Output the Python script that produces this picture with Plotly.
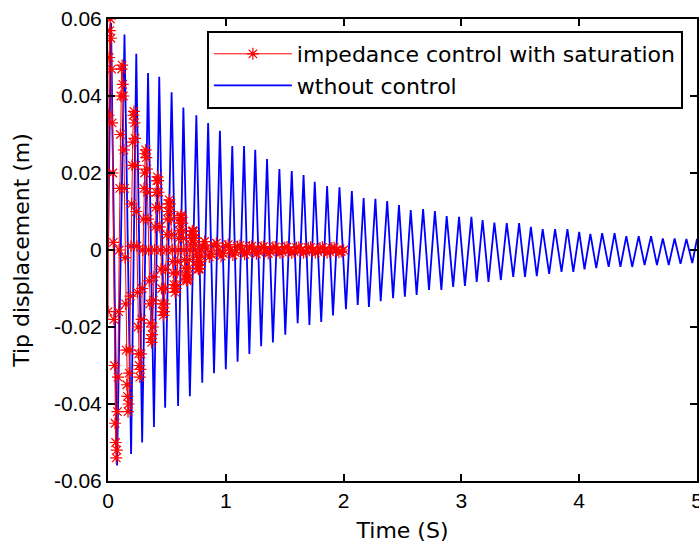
import plotly.graph_objects as go

# --- data (seconds, metres) ---
# uncontrolled response: successive peaks / troughs
blue_t = [0.000, 0.026, 0.077, 0.140, 0.196, 0.240, 0.290, 0.340, 0.390, 0.435,
          0.485, 0.540, 0.595, 0.640, 0.695, 0.750, 0.800, 0.850, 0.900, 0.950,
          1.000, 1.055, 1.100, 1.155, 1.200, 1.250, 1.300, 1.350, 1.400, 1.455,
          1.505, 1.560, 1.610, 1.660, 1.710, 1.755, 1.810, 1.860, 1.910, 1.965,
          2.020, 2.070, 2.120, 2.170, 2.215, 2.270, 2.315, 2.370, 2.420, 2.470,
          2.520, 2.570, 2.620, 2.675, 2.725, 2.775, 2.830, 2.875, 2.930, 2.980,
          3.030, 3.085, 3.130, 3.180, 3.230, 3.280, 3.335, 3.385, 3.440, 3.490,
          3.540, 3.590, 3.640, 3.690, 3.745, 3.795, 3.850, 3.900, 3.950, 4.000,
          4.045, 4.095, 4.145, 4.195, 4.250, 4.300, 4.350, 4.400, 4.450, 4.505,
          4.555, 4.610, 4.660, 4.710, 4.760, 4.810, 4.860, 4.910, 4.960, 5.000]
blue_v = [0.0, 0.059, -0.056, 0.056, -0.053, 0.051, -0.050, 0.046, -0.046, 0.045,
          -0.041, 0.041, -0.0405, 0.037, -0.038, 0.035, -0.0345, 0.033, -0.032, 0.031,
          -0.031, 0.027, -0.029, 0.027, -0.027, 0.026, -0.025, 0.0236, -0.024, 0.021,
          -0.022, 0.0205, -0.019, 0.0195, -0.0195, 0.0177, -0.0187, 0.0166, -0.017, 0.0163,
          -0.0154, 0.0153, -0.0143, 0.0135, -0.0148, 0.0133, -0.0133, 0.0127, -0.0125, 0.0117,
          -0.0121, 0.0104, -0.0117, 0.0106, -0.0104, 0.0101, -0.0104, 0.0088, -0.0096, 0.0086,
          -0.0093, 0.0086, -0.0083, 0.0078, -0.0083, 0.0071, -0.0078, 0.0070, -0.0070, 0.0070,
          -0.0070, 0.0060, -0.0068, 0.0054, -0.0062, 0.0054, -0.0057, 0.0054, -0.0057, 0.0047,
          -0.0050, 0.0042, -0.0047, 0.0044, -0.0044, 0.0044, -0.0044, 0.0036, -0.0044, 0.0036,
          -0.0039, 0.0036, -0.0039, 0.0030, -0.0039, 0.0030, -0.0036, 0.0029, -0.0034, 0.0029]

# impedance control with saturation: sampled response (star markers)
red_t = [0.000, 0.005, 0.010, 0.015, 0.020, 0.025, 0.030, 0.035, 0.040, 0.045,
         0.050, 0.055, 0.060, 0.065, 0.070, 0.075, 0.080, 0.085, 0.090, 0.095,
         0.100, 0.105, 0.110, 0.115, 0.120, 0.125, 0.130, 0.135, 0.140, 0.145,
         0.150, 0.155, 0.160, 0.165, 0.170, 0.175, 0.180, 0.185, 0.190, 0.195,
         0.200, 0.205, 0.210, 0.215, 0.220, 0.225, 0.230, 0.235, 0.240, 0.245,
         0.250, 0.255, 0.260, 0.265, 0.270, 0.275, 0.280, 0.285, 0.290, 0.295,
         0.300, 0.305, 0.310, 0.315, 0.320, 0.325, 0.330, 0.335, 0.340, 0.345,
         0.350, 0.355, 0.360, 0.365, 0.370, 0.375, 0.380, 0.385, 0.390, 0.395,
         0.400, 0.405, 0.410, 0.415, 0.420, 0.425, 0.430, 0.435, 0.440, 0.445,
         0.450, 0.455, 0.460, 0.465, 0.470, 0.475, 0.480, 0.485, 0.490, 0.495,
         0.500, 0.505, 0.510, 0.515, 0.520, 0.525, 0.530, 0.535, 0.540, 0.545,
         0.550, 0.555, 0.560, 0.565, 0.570, 0.575, 0.580, 0.585, 0.590, 0.595,
         0.600, 0.605, 0.610, 0.615, 0.620, 0.625, 0.630, 0.635, 0.640, 0.645,
         0.650, 0.655, 0.660, 0.665, 0.670, 0.675, 0.680, 0.685, 0.690, 0.695,
         0.700, 0.705, 0.710, 0.715, 0.720, 0.725, 0.730, 0.735, 0.740, 0.745,
         0.750, 0.755, 0.760, 0.765, 0.770, 0.775, 0.780, 0.785, 0.790, 0.795,
         0.80, 0.82, 0.84, 0.86, 0.88, 0.90, 0.92, 0.94, 0.96, 0.98,
         1.00, 1.02, 1.04, 1.06, 1.08, 1.10, 1.12, 1.14, 1.16, 1.18,
         1.20, 1.22, 1.24, 1.26, 1.28, 1.30, 1.32, 1.34, 1.36, 1.38,
         1.40, 1.42, 1.44, 1.46, 1.48, 1.50, 1.52, 1.54, 1.56, 1.58,
         1.60, 1.62, 1.64, 1.66, 1.68, 1.70, 1.72, 1.74, 1.76, 1.78,
         1.80, 1.82, 1.84, 1.86, 1.88, 1.90, 1.92, 1.94, 1.96, 1.98, 2.00]
red_v = [-0.016, 0.035, 0.050, 0.057, 0.060, 0.055, 0.047, 0.033, 0.020, 0.002,
         -0.018, -0.030, -0.045, -0.050, -0.054, -0.052, -0.042, -0.033, -0.016, 0.000,
         0.016, 0.030, 0.040, 0.047, 0.048, 0.043, 0.040, 0.026, 0.016, -0.002,
         -0.014, -0.026, -0.035, -0.038, -0.042, -0.040, -0.032, -0.026, -0.012, 0.001,
         0.012, 0.022, 0.028, 0.035, 0.036, 0.033, 0.029, 0.022, 0.010, 0.001,
         -0.011, -0.020, -0.027, -0.030, -0.033, -0.031, -0.027, -0.018, -0.010, 0.000,
         0.008, 0.016, 0.020, 0.025, 0.026, 0.024, 0.021, 0.015, 0.008, 0.000,
         -0.008, -0.014, -0.019, -0.023, -0.024, -0.022, -0.020, -0.013, -0.007, 0.000,
         0.006, 0.011, 0.015, 0.018, 0.019, 0.018, 0.015, 0.011, 0.006, 0.000,
         -0.005, -0.010, -0.014, -0.016, -0.017, -0.016, -0.014, -0.010, -0.005, 0.000,
         0.004, 0.008, 0.010, 0.012, 0.013, 0.012, 0.010, 0.008, 0.004, 0.000,
         -0.003, -0.006, -0.009, -0.010, -0.011, -0.010, -0.009, -0.006, -0.003, 0.000,
         0.003, 0.005, 0.007, 0.0085, 0.009, 0.0085, 0.007, 0.005, 0.003, 0.000,
         -0.0025, -0.0047, -0.0065, -0.0076, -0.008, -0.0076, -0.0065, -0.0047, -0.0025, 0.000,
         0.0015, 0.003, 0.004, 0.0048, 0.005, 0.0048, 0.004, 0.003, 0.0015, 0.000,
         -0.0015, -0.003, -0.004, -0.0048, -0.005, -0.0048, -0.004, -0.003, -0.0015, 0.000,
         0.0010, 0.0022, 0.0005, -0.0018, -0.0012, 0.0012, 0.0018, 0.0000, -0.0016, -0.0009,
         0.0010, 0.0014, 0.0000, -0.0013, -0.0007, 0.0009, 0.0012, 0.0000, -0.0011, -0.0006,
         0.0008, 0.0010, 0.0000, -0.0010, -0.0005, 0.0007, 0.0009, 0.0000, -0.0009, -0.0005,
         0.0007, 0.0008, 0.0000, -0.0008, -0.0005, 0.0006, 0.0008, 0.0000, -0.0008, -0.0004,
         0.0006, 0.0007, 0.0000, -0.0007, -0.0004, 0.0006, 0.0007, 0.0000, -0.0007, -0.0004,
         0.0005, 0.0007, 0.0000, -0.0007, -0.0004, 0.0005, 0.0006, 0.0000, -0.0006, -0.0004, 0.0000]

x_ticks = [0, 1, 2, 3, 4, 5]
y_ticks = [-0.06, -0.04, -0.02, 0, 0.02, 0.04, 0.06]
y_labels = ['-0.06', '-0.04', '-0.02', '0', '0.02', '0.04', '0.06']

TICK_FONT = 'Liberation Sans, Arial, sans-serif'
TEXT_FONT = 'DejaVu Sans, sans-serif'

fig = go.Figure()

# blue first, red drawn on top (legend order forced with legendrank)
fig.add_trace(go.Scatter(x=blue_t, y=blue_v, mode='lines', name='wthout control',
                         line=dict(color='#0000ff', width=1.8), legendrank=2))
fig.add_trace(go.Scatter(x=red_t, y=red_v, mode='lines+markers',
                         name='impedance control with saturation',
                         line=dict(color='#ff0000', width=1),
                         marker=dict(symbol='asterisk-open', size=10, color='#ff0000',
                                     line=dict(color='#ff0000', width=1.2)),
                         legendrank=1))

axis_common = dict(showline=True, linecolor='black', linewidth=2, mirror='ticks',
                   ticks='inside', ticklen=7, tickwidth=1.5, tickcolor='black',
                   showgrid=False, zeroline=False, automargin=False,
                   ticklabeloverflow='allow',
                   tickfont=dict(family=TICK_FONT, size=21, color='black'))

fig.update_xaxes(range=[0, 5], tickvals=x_ticks,
                 title=dict(text='Time (S)', font=dict(family=TEXT_FONT, size=22, color='black'),
                            standoff=11),
                 **axis_common)
fig.update_yaxes(range=[-0.06, 0.06], tickvals=y_ticks, ticktext=y_labels,
                 title=dict(text='Tip displacement (m)', font=dict(family=TEXT_FONT, size=22, color='black'),
                            standoff=18),
                 **axis_common)

fig.update_layout(
    width=699, height=548,
    margin=dict(l=108, r=2, t=19, b=67),
    paper_bgcolor='white', plot_bgcolor='white',
    showlegend=True,
    legend=dict(x=0.976, y=0.974, xanchor='right', yanchor='top',
                bgcolor='white', bordercolor='black', borderwidth=2,
                font=dict(family=TEXT_FONT, size=22, color='black'),
                itemwidth=78, tracegroupgap=0),
)

# drop the default page margin so the figure sits at the window origin
fig.write_html("out.html", config={'displayModeBar': False},
               post_script="document.body.style.margin='0';document.body.style.overflow='hidden';")
